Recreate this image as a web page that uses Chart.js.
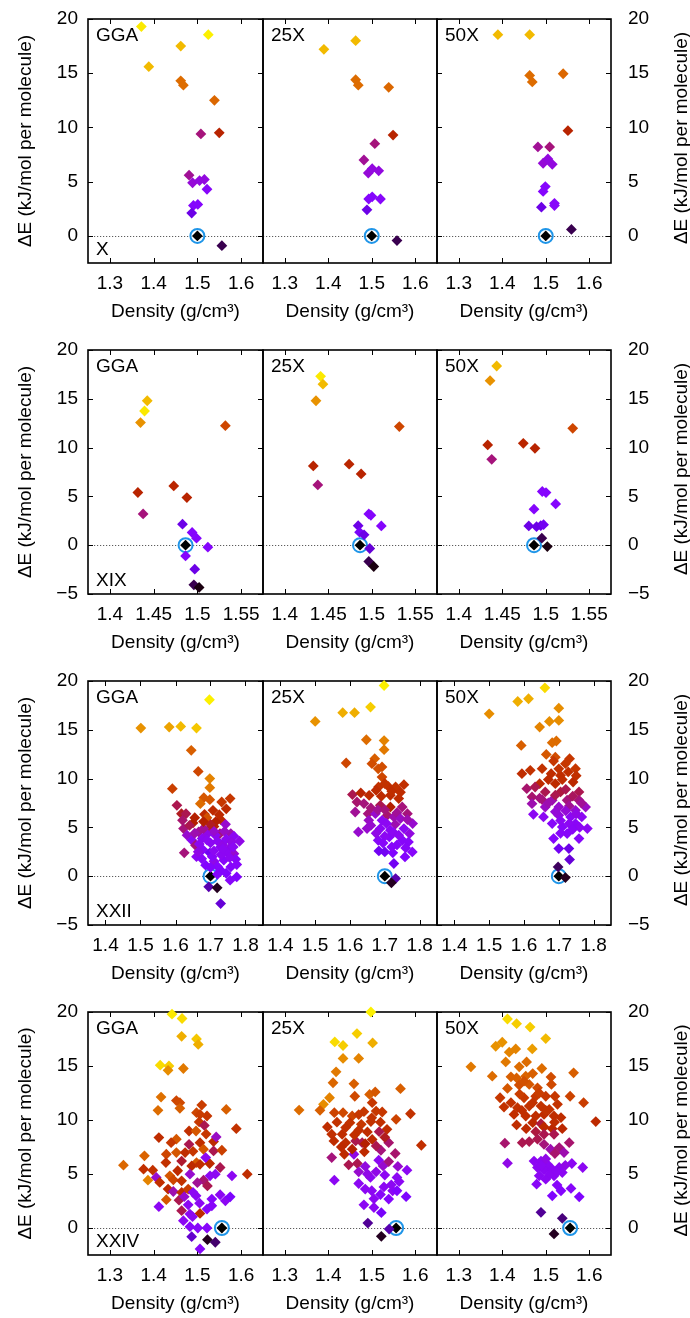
<!DOCTYPE html>
<html><head><meta charset="utf-8">
<script src="https://cdn.jsdelivr.net/npm/chart.js@4.4.1/dist/chart.umd.min.js"></script>
<style>
html,body{margin:0;padding:0;background:#fff;}
body{width:690px;height:1318px;position:relative;overflow:hidden;}
canvas{position:absolute;}
</style></head><body>
<script>
// ---------------- data ----------------
const methods = ['GGA', '25X', '50X'];
const structures = ['X', 'XIX', 'XXII', 'XXIV'];
const refDensity = [1.5, 1.4865, 1.7, 1.556];
const xMin = [1.25, 1.375, 1.35, 1.25];
const xMax = [1.65, 1.575, 1.85, 1.65];
const yMin = [-2.5, -5, -5, -2.5];
const yMax = [20, 20, 20, 20];
const xTicksX = [1.3, 1.4, 1.5, 1.6];
const xTicksXIX = [1.4, 1.45, 1.5, 1.55];
const xTicksXXII = [1.4, 1.5, 1.6, 1.7, 1.8];
const xTicksXXIV = [1.3, 1.4, 1.5, 1.6];
const yTicksShort = [0, 5, 10, 15, 20];
const yTicksLong = [-5, 0, 5, 10, 15, 20];
const xTitle = 'Density (g/cm³)';
const yTitle = 'ΔE (kJ/mol per molecule)';

// [density, ΔE, colour index 0..1]
const X_GGA = [[1.372,19.3,.97],[1.525,18.55,.98],[1.462,17.5,.9],[1.389,15.6,.9],[1.462,14.3,.75],[1.468,13.9,.75],[1.539,12.5,.74],[1.508,9.4,.42],[1.55,9.5,.52],[1.481,5.6,.4],[1.489,4.9,.34],[1.505,5.1,.33],[1.516,5.2,.33],[1.522,4.3,.28],[1.491,2.8,.27],[1.501,2.9,.27],[1.487,2.1,.18],[1.556,-0.9,.05]];
const X_25X = [[1.39,17.2,.9],[1.463,18.0,.9],[1.463,14.4,.75],[1.469,13.9,.75],[1.539,13.7,.74],[1.549,9.3,.52],[1.507,8.5,.42],[1.482,7.0,.4],[1.492,5.8,.34],[1.501,6.2,.33],[1.516,6.0,.33],[1.493,3.4,.27],[1.501,3.6,.27],[1.52,3.4,.28],[1.489,2.4,.18],[1.558,-0.43,.05]];
const X_50X = [[1.39,18.55,.9],[1.463,18.55,.9],[1.463,14.8,.75],[1.469,14.2,.75],[1.54,14.95,.74],[1.551,9.7,.52],[1.482,8.2,.4],[1.509,8.2,.42],[1.494,6.7,.34],[1.505,7.1,.33],[1.515,6.6,.33],[1.499,4.55,.27],[1.494,4.1,.27],[1.49,2.65,.18],[1.52,3.0,.28],[1.52,2.8,.28],[1.559,0.6,.05]];

const XIX_GGA = [[1.4427,14.8,.9],[1.4396,13.75,.97],[1.435,12.56,.83],[1.532,12.25,.65],[1.432,5.4,.52],[1.473,6.07,.53],[1.488,4.88,.52],[1.438,3.2,.42],[1.483,2.15,.18],[1.494,1.3,.27],[1.499,0.72,.27],[1.512,-0.2,.27],[1.4865,-1.1,.27],[1.497,-2.46,.18],[1.496,-4.06,.05],[1.502,-4.33,.01]];
const XIX_25X = [[1.4412,17.3,.97],[1.4439,16.5,.9],[1.4359,14.8,.83],[1.5317,12.15,.65],[1.4328,8.12,.52],[1.474,8.3,.53],[1.4878,7.3,.52],[1.438,6.18,.42],[1.4966,3.2,.27],[1.499,3.07,.27],[1.511,1.98,.27],[1.4844,2.0,.18],[1.486,1.33,.22],[1.4912,1.06,.18],[1.4977,-0.34,.16],[1.4966,-1.67,.05],[1.5023,-2.18,.01]];
const XIX_50X = [[1.4436,18.36,.9],[1.436,16.86,.83],[1.531,11.98,.65],[1.4333,10.27,.52],[1.4742,10.44,.53],[1.4876,9.93,.52],[1.4379,8.8,.42],[1.496,5.5,.27],[1.5003,5.39,.27],[1.5114,4.23,.27],[1.4865,3.69,.27],[1.4805,1.98,.18],[1.4894,1.9,.18],[1.4943,2.0,.18],[1.4975,2.1,.2],[1.4955,0.72,.05],[1.5018,-0.14,.01]];

const XXII_GGA = [[1.697,18.08,.98],[1.501,15.18,.83],[1.582,15.28,.86],[1.615,15.35,.9],[1.66,15.18,.92],[1.645,12.9,.72],[1.665,10.74,.65],[1.591,8.97,.63],[1.698,10.0,.8],[1.698,9.07,.78],[1.681,8.05,.7],[1.671,7.43,.75],[1.698,7.84,.7],[1.732,7.6,.6],[1.756,7.95,.6],[1.604,7.26,.45],[1.617,6.4,.48],[1.63,6.4,.45],[1.683,6.34,.55],[1.707,6.75,.55],[1.69,6.0,.68],[1.62,5.73,.43],[1.65,5.46,.5],[1.729,5.8,.55],[1.71,5.1,.52],[1.695,4.77,.45],[1.743,5.32,.35],[1.623,4.88,.42],[1.666,4.54,.4],[1.633,4.2,.35],[1.727,4.37,.42],[1.758,4.37,.38],[1.647,3.68,.3],[1.676,3.85,.3],[1.714,4.2,.3],[1.767,4.1,.3],[1.783,3.58,.32],[1.657,3.17,.42],[1.678,2.73,.28],[1.7,3.41,.3],[1.729,3.0,.3],[1.758,3.0,.32],[1.767,2.3,.35],[1.625,2.39,.42],[1.698,2.39,.2],[1.71,1.53,.32],[1.686,1.13,.26],[1.738,1.64,.28],[1.772,1.74,.28],[1.758,0.95,.27],[1.775,-0.07,.26],[1.756,-0.41,.28],[1.729,0.61,.26],[1.695,-1.09,.12],[1.719,-1.19,.02],[1.729,-2.8,.16],[1.668,3.3,.3],[1.69,4.3,.32],[1.72,3.6,.3],[1.745,2.5,.3],[1.735,3.2,.32],[1.705,2.0,.28],[1.755,1.9,.3],[1.72,0.2,.26],[1.68,4.9,.4],[1.74,4.6,.36],[1.715,5.6,.5],[1.7,5.3,.48],[1.66,2.0,.3],[1.675,1.8,.28],[1.71,2.6,.3],[1.73,2.2,.3],[1.745,3.8,.3],[1.76,3.5,.32],[1.71,4.6,.35],[1.69,3.7,.3],[1.665,2.5,.32],[1.72,1.0,.27],[1.745,0.3,.26],[1.7,0.9,.26],[1.775,1.2,.28],[1.765,3.0,.3],[1.735,2.8,.3],[1.655,4.4,.38],[1.68,5.6,.5],[1.725,6.3,.55],[1.745,6.9,.55],[1.655,6.0,.5],[1.64,5.2,.45]];
const XXII_25X = [[1.698,19.54,.98],[1.659,17.33,.93],[1.579,16.75,.88],[1.613,16.75,.88],[1.5,15.86,.83],[1.647,13.98,.75],[1.698,13.9,.8],[1.698,12.96,.78],[1.589,11.6,.65],[1.671,12.04,.72],[1.663,11.53,.67],[1.681,11.0,.68],[1.692,11.2,.67],[1.692,10.16,.65],[1.682,9.14,.58],[1.71,9.2,.57],[1.731,9.14,.58],[1.755,9.38,.57],[1.607,8.36,.45],[1.631,8.53,.52],[1.655,8.29,.55],[1.69,8.19,.55],[1.716,8.29,.55],[1.74,7.95,.55],[1.62,7.6,.43],[1.64,7.44,.42],[1.687,7.26,.45],[1.716,7.09,.5],[1.75,7.09,.42],[1.615,6.58,.4],[1.652,6.41,.42],[1.673,6.41,.35],[1.707,6.24,.43],[1.726,6.07,.38],[1.765,6.41,.42],[1.654,5.73,.36],[1.692,5.73,.3],[1.73,5.32,.38],[1.78,5.39,.35],[1.624,4.54,.35],[1.649,4.88,.35],[1.687,4.88,.3],[1.716,4.71,.3],[1.755,4.88,.3],[1.771,4.37,.33],[1.681,3.68,.28],[1.713,4.02,.28],[1.751,3.68,.28],[1.768,3.51,.28],[1.683,2.59,.2],[1.7,2.49,.2],[1.723,2.39,.25],[1.758,1.98,.26],[1.779,2.49,.28],[1.726,1.3,.2],[1.731,-0.24,.12],[1.719,-0.68,.02],[1.66,7.0,.42],[1.68,6.8,.4],[1.7,6.8,.42],[1.735,6.5,.4],[1.745,5.9,.36],[1.66,5.2,.35],[1.705,5.4,.3],[1.725,4.5,.3],[1.74,4.2,.3],[1.7,4.1,.3],[1.675,4.4,.32],[1.735,3.2,.28],[1.76,2.9,.28],[1.695,3.4,.28],[1.72,8.7,.56],[1.7,9.5,.58],[1.675,8.8,.55],[1.745,8.6,.56],[1.765,5.8,.38],[1.72,3.0,.28]];
const XXII_50X = [[1.66,19.3,.95],[1.582,17.9,.88],[1.613,18.18,.88],[1.5,16.64,.82],[1.7,17.22,.82],[1.645,15.28,.8],[1.673,15.86,.82],[1.7,15.96,.82],[1.592,13.4,.72],[1.681,13.68,.75],[1.693,13.85,.75],[1.664,12.48,.7],[1.69,12.2,.67],[1.731,12.04,.6],[1.618,10.85,.58],[1.652,11.02,.58],[1.719,11.53,.6],[1.748,11.02,.6],[1.594,10.5,.56],[1.678,10.5,.56],[1.705,10.33,.56],[1.727,10.68,.57],[1.645,9.48,.55],[1.69,9.48,.55],[1.741,9.65,.54],[1.608,8.97,.43],[1.632,9.14,.45],[1.661,8.63,.45],[1.705,8.63,.46],[1.758,8.63,.45],[1.623,8.12,.43],[1.652,7.84,.42],[1.681,7.78,.38],[1.724,7.78,.42],[1.758,7.78,.42],[1.623,7.43,.38],[1.661,7.09,.36],[1.7,7.09,.35],[1.777,7.09,.36],[1.748,6.75,.35],[1.627,6.34,.3],[1.656,6.07,.3],[1.7,6.24,.33],[1.734,6.07,.3],[1.766,6.07,.3],[1.681,5.39,.28],[1.748,5.39,.29],[1.71,5.05,.28],[1.782,4.88,.3],[1.724,4.37,.28],[1.758,3.85,.28],[1.685,3.85,.27],[1.7,2.83,.2],[1.729,2.83,.18],[1.731,1.7,.16],[1.698,0.95,.06],[1.719,-0.14,.02],[1.69,8.3,.45],[1.72,8.9,.45],[1.74,8.2,.44],[1.67,9.9,.55],[1.71,9.9,.56],[1.73,7.2,.4],[1.765,7.5,.4],[1.69,6.6,.34],[1.72,6.7,.34],[1.75,6.4,.32],[1.705,5.7,.3],[1.73,5.4,.3],[1.76,5.0,.3],[1.74,4.8,.29],[1.705,4.4,.28],[1.645,8.0,.42],[1.67,7.5,.38],[1.75,10.3,.57],[1.7,11.0,.58],[1.685,11.8,.6]];

const XXIV_GGA = [[1.442,19.8,.97],[1.465,19.4,.95],[1.464,17.75,.88],[1.498,17.5,.92],[1.502,17.0,.88],[1.415,15.08,.95],[1.435,15.0,.93],[1.433,14.6,.82],[1.468,14.77,.78],[1.417,12.12,.76],[1.41,10.9,.75],[1.452,11.8,.65],[1.46,11.6,.66],[1.46,11.08,.72],[1.51,11.38,.62],[1.522,10.37,.6],[1.498,10.68,.65],[1.506,10.52,.62],[1.504,9.82,.6],[1.566,10.98,.72],[1.589,9.2,.58],[1.516,9.5,.45],[1.412,8.37,.56],[1.452,8.22,.7],[1.481,8.98,.57],[1.497,8.98,.7],[1.506,7.9,.57],[1.537,8.0,.55],[1.543,8.43,.36],[1.481,7.75,.45],[1.379,6.68,.73],[1.429,6.83,.65],[1.452,6.98,.7],[1.472,6.98,.56],[1.464,6.2,.47],[1.514,7.29,.7],[1.537,7.14,.45],[1.556,7.2,.63],[1.552,5.6,.45],[1.428,6.06,.58],[1.498,6.06,.7],[1.487,5.75,.55],[1.506,5.9,.57],[1.528,5.97,.55],[1.519,6.52,.3],[1.331,5.82,.74],[1.377,5.45,.57],[1.398,5.35,.58],[1.406,4.68,.35],[1.387,4.43,.8],[1.414,4.22,.57],[1.437,4.83,.7],[1.445,4.46,.65],[1.464,4.37,.58],[1.483,4.98,.35],[1.514,4.43,.43],[1.529,4.83,.3],[1.541,4.98,.3],[1.523,3.9,.45],[1.579,4.83,.3],[1.614,4.98,.56],[1.433,3.6,.55],[1.445,3.38,.38],[1.464,3.29,.56],[1.479,3.6,.62],[1.429,2.62,.7],[1.458,2.58,.45],[1.412,1.97,.3],[1.497,2.98,.3],[1.479,2.15,.3],[1.483,1.29,.3],[1.506,1.35,.55],[1.489,1.05,.3],[1.464,1.6,.45],[1.468,0.68,.3],[1.533,2.68,.28],[1.552,3.08,.3],[1.564,2.52,.3],[1.575,2.89,.24],[1.522,1.75,.28],[1.533,2.06,.28],[1.483,0.12,.28],[1.501,0.0,.28],[1.522,0.0,.28],[1.487,-0.8,.15],[1.523,-1.08,.02],[1.541,-1.32,.07],[1.506,-1.94,.28],[1.49,3.3,.3],[1.505,2.3,.3],[1.47,2.9,.35],[1.455,5.3,.55],[1.49,7.1,.6],[1.52,8.7,.6],[1.44,7.9,.6],[1.5,4.2,.4]];
const XXIV_25X = [[1.498,20.0,.98],[1.466,18.0,.93],[1.415,17.23,.95],[1.434,16.9,.93],[1.502,17.14,.88],[1.434,15.7,.82],[1.47,15.7,.8],[1.418,14.46,.78],[1.411,13.45,.74],[1.459,13.35,.72],[1.461,12.2,.66],[1.403,12.06,.8],[1.389,11.45,.82],[1.495,12.37,.72],[1.508,12.6,.7],[1.566,12.9,.72],[1.333,10.92,.75],[1.381,10.9,.72],[1.414,10.68,.64],[1.434,10.68,.66],[1.455,10.37,.64],[1.482,10.77,.6],[1.501,11.6,.6],[1.51,10.83,.6],[1.524,10.74,.6],[1.589,10.58,.58],[1.556,10.06,.64],[1.45,9.75,.58],[1.476,9.6,.6],[1.498,9.85,.58],[1.535,9.14,.56],[1.398,9.35,.56],[1.432,8.68,.56],[1.47,9.05,.57],[1.517,8.92,.45],[1.539,7.9,.43],[1.408,8.68,.57],[1.413,8.06,.56],[1.44,7.9,.56],[1.463,8.06,.45],[1.478,7.9,.45],[1.501,8.2,.55],[1.614,7.66,.57],[1.437,6.83,.55],[1.459,6.83,.32],[1.483,7.05,.55],[1.521,7.2,.42],[1.554,6.9,.43],[1.408,6.52,.42],[1.447,5.85,.45],[1.467,5.97,.45],[1.485,5.7,.33],[1.516,6.28,.3],[1.526,5.75,.35],[1.539,6.15,.42],[1.581,5.35,.3],[1.414,4.43,.3],[1.47,4.12,.3],[1.497,4.68,.3],[1.558,4.68,.3],[1.485,3.6,.3],[1.5,3.45,.3],[1.528,3.8,.3],[1.548,3.45,.3],[1.563,4.3,.3],[1.579,2.9,.24],[1.558,3.45,.25],[1.539,2.68,.27],[1.482,2.15,.3],[1.505,1.9,.3],[1.522,1.42,.22],[1.491,0.46,.1],[1.522,-0.77,.02],[1.54,-0.1,.12],[1.44,9.3,.57],[1.46,8.6,.57],[1.49,8.9,.56],[1.52,9.8,.57],[1.5,10.2,.58],[1.47,10.5,.6],[1.42,9.8,.58],[1.485,7.8,.5],[1.51,7.6,.45],[1.53,8.4,.48],[1.455,7.3,.5],[1.43,7.5,.55],[1.49,5.0,.32],[1.51,5.2,.32],[1.53,4.9,.3],[1.545,4.0,.3],[1.52,3.1,.28],[1.505,2.7,.3],[1.47,5.2,.35],[1.56,5.7,.35]];
const XXIV_50X = [[1.412,19.35,.95],[1.433,18.92,.93],[1.464,18.6,.93],[1.5,17.54,.9],[1.469,16.58,.85],[1.385,16.83,.83],[1.4,17.2,.83],[1.416,16.28,.8],[1.431,16.58,.8],[1.408,15.38,.78],[1.328,14.92,.78],[1.439,14.92,.75],[1.456,15.38,.75],[1.491,14.77,.75],[1.564,14.37,.72],[1.377,14.06,.75],[1.433,13.9,.72],[1.454,14.06,.73],[1.512,13.97,.67],[1.412,12.92,.7],[1.439,13.23,.67],[1.462,13.29,.7],[1.481,12.98,.66],[1.513,13.29,.66],[1.395,12.06,.6],[1.42,11.6,.58],[1.45,12.06,.6],[1.477,12.2,.6],[1.5,12.2,.6],[1.521,12.2,.6],[1.556,12.2,.64],[1.587,11.6,.62],[1.404,11.2,.58],[1.435,11.14,.58],[1.462,11.29,.58],[1.489,11.29,.58],[1.508,10.98,.58],[1.527,11.45,.58],[1.427,10.52,.57],[1.454,10.37,.57],[1.477,10.37,.56],[1.496,10.52,.56],[1.519,10.37,.56],[1.535,10.22,.56],[1.615,9.85,.55],[1.433,9.54,.56],[1.47,9.75,.55],[1.489,9.66,.46],[1.496,9.35,.55],[1.515,9.2,.54],[1.538,9.2,.54],[1.477,8.92,.46],[1.496,8.68,.45],[1.519,8.68,.45],[1.406,7.85,.43],[1.446,7.9,.45],[1.462,8.0,.45],[1.481,8.22,.45],[1.496,7.75,.42],[1.511,7.29,.38],[1.531,7.45,.42],[1.554,7.9,.43],[1.542,6.98,.38],[1.521,6.9,.43],[1.412,6.0,.32],[1.473,6.2,.3],[1.489,6.2,.3],[1.504,5.9,.3],[1.481,5.6,.3],[1.496,5.35,.3],[1.515,5.45,.3],[1.531,5.6,.3],[1.538,5.14,.3],[1.56,5.97,.3],[1.585,5.6,.3],[1.485,4.83,.3],[1.5,4.52,.3],[1.519,4.83,.3],[1.479,4.06,.29],[1.526,3.97,.28],[1.515,2.98,.25],[1.535,3.45,.27],[1.558,3.66,.28],[1.577,2.89,.25],[1.489,1.45,.1],[1.538,0.9,.08],[1.519,-0.55,.02],[1.49,5.8,.3],[1.51,5.0,.3],[1.525,5.2,.3],[1.5,6.4,.32],[1.545,5.8,.32],[1.5,10.9,.58],[1.47,11.6,.58],[1.445,10.9,.57],[1.52,9.8,.56],[1.455,9.2,.55],[1.485,12.5,.62],[1.45,13.6,.68],[1.47,14.3,.72],[1.42,14.0,.72],[1.44,12.4,.62]];

const panels = [
  [X_GGA, X_25X, X_50X],
  [XIX_GGA, XIX_25X, XIX_50X],
  [XXII_GGA, XXII_25X, XXII_50X],
  [XXIV_GGA, XXIV_25X, XXIV_50X]
];
const xTicksRows = [xTicksX, xTicksXIX, xTicksXXII, xTicksXXIV];
const yTicksRows = [yTicksShort, yTicksLong, yTicksLong, yTicksShort];

// ---------------- layout (positions only) ----------------
const plotTop = [19, 350, 681, 1012];
const plotH = [244, 244, 244, 243];
const colLeft = [88, 263, 437];
const colW = [175, 174, 174];
const PAD_T = 34, PAD_B = 60, SIDE = 20, LEFT_AXIS = 88, RIGHT_AXIS = 79;
const FONT = 'Liberation Sans, Arial, Helvetica, sans-serif';
const FS = 19;

Chart.defaults.font.family = FONT;
Chart.defaults.font.size = FS;
Chart.defaults.color = '#000';

function pm3d(c) {
  const r = Math.sqrt(c), g = c * c * c, b = Math.max(0, Math.sin(2 * Math.PI * c));
  return 'rgb(' + Math.round(255 * r) + ',' + Math.round(255 * g) + ',' + Math.round(255 * b) + ')';
}
function fmtY(v) { return v < 0 ? '\u2212' + Math.abs(v) : String(v); }

const panelPlugin = {
  id: 'panel',
  beforeDatasetsDraw(chart, args, o) {
    const ctx = chart.ctx, a = chart.chartArea, x = chart.scales.x, y = chart.scales.y;
    ctx.save();
    const y0 = Math.round(y.getPixelForValue(0)) + 0.5;
    ctx.strokeStyle = '#333'; ctx.lineWidth = 0.8; ctx.setLineDash([1.2, 1.8]);
    ctx.beginPath(); ctx.moveTo(a.left, y0); ctx.lineTo(a.right, y0); ctx.stroke();
    ctx.setLineDash([]);
    ctx.strokeStyle = '#000'; ctx.lineWidth = 1;
    const L = 5;
    ctx.beginPath();
    o.xTicks.forEach(v => {
      const px = Math.round(x.getPixelForValue(v)) + 0.5;
      ctx.moveTo(px, a.bottom); ctx.lineTo(px, a.bottom - L);
      ctx.moveTo(px, a.top); ctx.lineTo(px, a.top + L);
    });
    if (o.yTicks) o.yTicks.forEach(v => {
      const py = Math.round(y.getPixelForValue(v)) + 0.5;
      ctx.moveTo(a.left, py); ctx.lineTo(a.left + L, py);
      ctx.moveTo(a.right, py); ctx.lineTo(a.right - L, py);
    });
    ctx.stroke();
    ctx.lineWidth = 1.6;
    ctx.strokeRect(a.left, a.top, a.right - a.left, a.bottom - a.top);
    ctx.restore();
  },
  afterDraw(chart, args, o) {
    const ctx = chart.ctx, a = chart.chartArea;
    ctx.save();
    ctx.fillStyle = '#000';
    ctx.font = FS + 'px ' + FONT;
    ctx.textAlign = 'left'; ctx.textBaseline = 'alphabetic';
    ctx.fillText(o.method, a.left + 8, a.top + 22);
    if (o.struct) ctx.fillText(o.struct, a.left + 8, a.bottom - 8);
    if (o.rightTitle) {
      ctx.translate(a.right + 71, (a.top + a.bottom) / 2 - 3);
      ctx.rotate(-Math.PI / 2);
      ctx.textAlign = 'center'; ctx.textBaseline = 'middle';
      ctx.fillText(o.rightTitle, 0, 0);
    }
    ctx.restore();
  }
};

for (let r = 0; r < 4; r++) {
  for (let c = 0; c < 3; c++) {
    const padL = c === 0 ? LEFT_AXIS : SIDE;
    const padR = c === 2 ? RIGHT_AXIS : SIDE;
    const cv = document.createElement('canvas');
    const W = padL + colW[c] + padR;
    const H = PAD_T + plotH[r] + PAD_B;
    cv.width = W; cv.height = H;
    cv.style.left = (colLeft[c] - padL) + 'px';
    cv.style.top = (plotTop[r] - PAD_T) + 'px';
    cv.style.width = W + 'px'; cv.style.height = H + 'px';
    document.body.appendChild(cv);

    const pts = panels[r][c];
    const yScale = {
      type: 'linear', min: yMin[r], max: yMax[r],
      afterBuildTicks: s => { s.ticks = yTicksRows[r].map(v => ({ value: v })); },
      grid: { display: false, drawTicks: false },
      border: { display: false },
      ticks: { callback: v => fmtY(v), color: '#000', font: { size: FS } }
    };
    if (c === 0) {
      yScale.position = 'left';
      yScale.ticks.padding = 10;
      yScale.afterFit = s => { s.width = LEFT_AXIS; };
      yScale.title = { display: true, text: yTitle, color: '#000', font: { size: FS }, padding: { top: 14, bottom: 0 } };
    } else if (c === 2) {
      yScale.position = 'right';
      yScale.ticks.padding = 17;
      yScale.afterFit = s => { s.width = RIGHT_AXIS; };
    } else {
      yScale.display = false;
    }

    new Chart(cv, {
      type: 'scatter',
      data: {
        datasets: [
          {
            data: pts.map(p => ({ x: p[0], y: p[1] })),
            pointBackgroundColor: pts.map(p => pm3d(p[2])),
            pointStyle: 'rectRot', pointRadius: 5.4, pointBorderWidth: 0, pointHoverRadius: 5.4,
            clip: false
          },
          {
            data: [{ x: refDensity[r], y: 0 }],
            pointBackgroundColor: '#000', pointStyle: 'rectRot', pointRadius: 5.4, pointBorderWidth: 0,
            clip: false
          },
          {
            data: [{ x: refDensity[r], y: 0 }],
            pointBackgroundColor: 'rgba(0,0,0,0)', pointBorderColor: '#1f95e8', pointBorderWidth: 2,
            pointStyle: 'circle', pointRadius: 7, clip: false
          }
        ]
      },
      options: {
        responsive: false, animation: false, devicePixelRatio: 1, events: [],
        layout: { padding: { left: c === 0 ? 0 : SIDE, right: c === 2 ? 0 : SIDE, top: PAD_T, bottom: 0 } },
        plugins: {
          legend: { display: false }, tooltip: { enabled: false },
          panel: {
            method: methods[c],
            struct: c === 0 ? structures[r] : null,
            xTicks: xTicksRows[r],
            yTicks: c === 1 ? null : yTicksRows[r],
            rightTitle: c === 2 ? yTitle : null
          }
        },
        scales: {
          x: {
            type: 'linear', position: 'bottom', min: xMin[r], max: xMax[r],
            afterBuildTicks: s => { s.ticks = xTicksRows[r].map(v => ({ value: v })); },
            afterFit: s => { s.height = PAD_B; },
            grid: { display: false, drawTicks: false },
            border: { display: false },
            ticks: { padding: 9, color: '#000', font: { size: FS }, callback: v => String(v) },
            title: { display: true, text: xTitle, color: '#000', font: { size: FS }, padding: { top: 0, bottom: 0 } }
          },
          y: yScale
        }
      },
      plugins: [panelPlugin]
    });
  }
}
</script>
</body></html>
